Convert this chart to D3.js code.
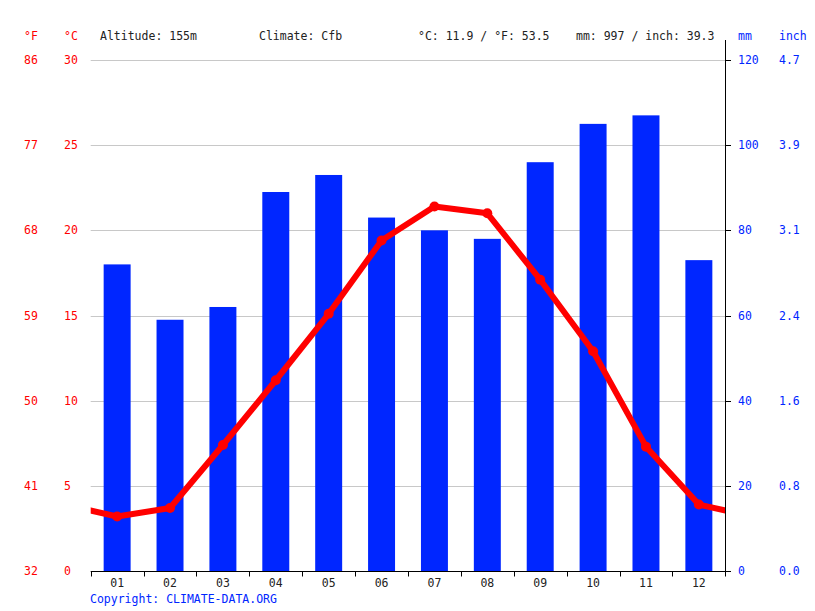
<!DOCTYPE html>
<html>
<head>
<meta charset="utf-8">
<script src="https://cdn.jsdelivr.net/npm/d3@7"></script>
<style>
html,body{margin:0;padding:0;background:#fff;}
svg{display:block;}
text{font-family:"DejaVu Sans Mono",monospace;font-size:11.5px;}
</style>
</head>
<body>
<svg id="chart" width="815" height="611"></svg>
<script>
const months = ["01","02","03","04","05","06","07","08","09","10","11","12"];
const precipMM = [72,59,62,89,93,83,80,78,96,105,107,73];
const tempC = [3.2,3.7,7.4,11.2,15.1,19.4,21.4,21.0,17.1,12.9,7.3,3.9];
const cTicks = [0,5,10,15,20,25,30];
const fLabels = ["32","41","50","59","68","77","86"];
const mmTicks = [0,20,40,60,80,100,120];
const inchLabels = ["0.0","0.8","1.6","2.4","3.1","3.9","4.7"];
const headerTexts = ["Altitude: 155m","Climate: Cfb","°C: 11.9 / °F: 53.5","mm: 997 / inch: 39.3"];

(function(){
const RED = "#ff0000", BLUE = "#0026ff";
const svg = d3.select("#chart");
const pLeft = 90.7, pRight = 725.3, pTop = 60, pBottom = 571;

const x = d3.scaleBand().domain(months).range([pLeft, pRight]);
const bw = x.bandwidth();
const yC = d3.scaleLinear().domain([0,30]).range([pBottom, pTop]);
const yMM = d3.scaleLinear().domain([0,120]).range([pBottom, pTop]);

// grid lines
svg.append("g").selectAll("line").data(cTicks.filter(d => d > 0)).join("line")
  .attr("x1", pLeft).attr("x2", pRight)
  .attr("y1", d => Math.round(yC(d)) + 0.5).attr("y2", d => Math.round(yC(d)) + 0.5)
  .attr("stroke", "#c8c8c8").attr("stroke-width", 1);

// bars
const barW = bw * 0.51;
svg.append("g").selectAll("rect").data(months).join("rect")
  .attr("x", (m) => x(m) + (bw - barW) / 2)
  .attr("width", barW)
  .attr("y", (m, i) => yMM(precipMM[i]))
  .attr("height", (m, i) => pBottom - yMM(precipMM[i]))
  .attr("fill", BLUE);

// clip path for the line
svg.append("clipPath").attr("id", "plotclip").append("rect")
  .attr("x", pLeft).attr("y", 0).attr("width", pRight - pLeft).attr("height", pBottom);

const pts = months.map((m, i) => [x(m) + bw / 2, yC(tempC[i])]);
const ext = [[x(months[0]) + bw / 2 - bw, yC(tempC[11])], ...pts, [x(months[11]) + bw / 2 + bw, yC(tempC[0])]];
const line = d3.line();
const lg = svg.append("g").attr("clip-path", "url(#plotclip)");
lg.append("path").attr("d", line(ext)).attr("fill", "none")
  .attr("stroke", RED).attr("stroke-width", 6).attr("stroke-linejoin", "round");
lg.selectAll("circle").data(pts).join("circle")
  .attr("cx", d => d[0]).attr("cy", d => d[1]).attr("r", 5).attr("fill", RED);

// x axis
const xAxis = svg.append("g").attr("transform", `translate(0,${pBottom + 0.5})`);
xAxis.append("line").attr("x1", pLeft).attr("x2", pRight + 0.5).attr("stroke", "#000");
const bounds = months.map(m => x(m)).concat([pRight]);
xAxis.selectAll("line.tk").data(bounds).join("line").attr("class", "tk")
  .attr("x1", d => Math.round(d) + 0.5).attr("x2", d => Math.round(d) + 0.5)
  .attr("y1", 0).attr("y2", 5).attr("stroke", "#000");
xAxis.selectAll("text").data(months).join("text")
  .attr("x", m => x(m) + bw / 2).attr("y", 15)
  .attr("text-anchor", "middle").attr("fill", "#222").text(d => d);

// right axis line
svg.append("line").attr("x1", 725.5).attr("x2", 725.5).attr("y1", 40).attr("y2", pBottom + 1)
  .attr("stroke", "#000");
svg.append("g").selectAll("line").data(mmTicks).join("line")
  .attr("x1", 725).attr("x2", 731)
  .attr("y1", d => Math.round(yMM(d)) + 0.5).attr("y2", d => Math.round(yMM(d)) + 0.5)
  .attr("stroke", "#000");

// left labels
const ly = svg.append("g");
ly.selectAll("text.f").data(cTicks).join("text").attr("class", "f")
  .attr("x", 24).attr("y", d => yC(d) + 4).attr("fill", RED)
  .text((d, i) => fLabels[i]);
ly.selectAll("text.c").data(cTicks).join("text").attr("class", "c")
  .attr("x", 64).attr("y", d => yC(d) + 4).attr("fill", RED)
  .text(d => d);
// right labels
ly.selectAll("text.mm").data(mmTicks).join("text").attr("class", "mm")
  .attr("x", 738).attr("y", d => yMM(d) + 4).attr("fill", BLUE)
  .text(d => d);
ly.selectAll("text.in").data(mmTicks).join("text").attr("class", "in")
  .attr("x", 779).attr("y", (d) => yMM(d) + 4).attr("fill", BLUE)
  .text((d, i) => inchLabels[i]);

// headers
svg.append("text").attr("x", 24).attr("y", 40).attr("fill", RED).text("°F");
svg.append("text").attr("x", 64).attr("y", 40).attr("fill", RED).text("°C");
svg.append("text").attr("x", 738).attr("y", 40).attr("fill", BLUE).text("mm");
svg.append("text").attr("x", 779).attr("y", 40).attr("fill", BLUE).text("inch");
const hx = [100, 259, 418, 576];
headerTexts.forEach((t, i) => {
  svg.append("text").attr("x", hx[i]).attr("y", 40).attr("fill", "#222").text(t);
});

svg.append("text").attr("x", 90).attr("y", 603).attr("fill", BLUE).text("Copyright: CLIMATE-DATA.ORG");
})();
</script>
</body>
</html>
